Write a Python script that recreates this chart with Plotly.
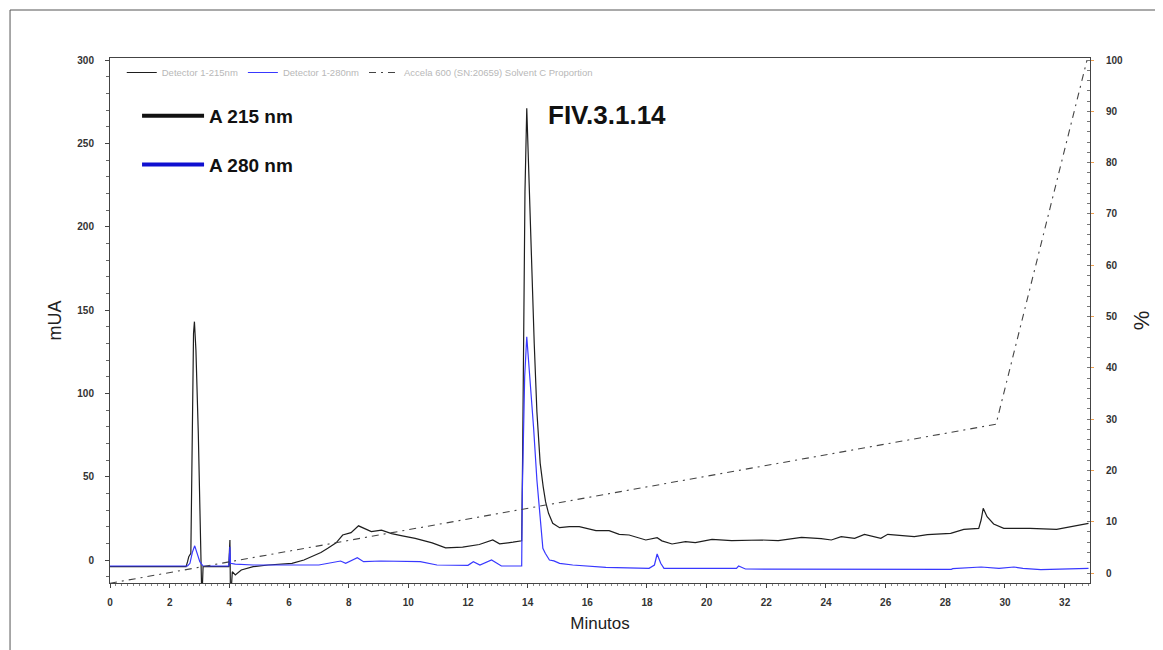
import plotly.graph_objects as go

# ---- data ----
t215 = [0, 2.55, 2.6, 2.64, 2.71, 2.76, 2.8, 2.83, 2.88, 2.96, 3.01, 3.07, 3.08, 3.12,
        3.98, 4.02, 4.04, 4.1, 4.2, 4.4, 4.8, 5.3, 5.8, 6.1, 6.5, 6.75, 7.07, 7.3, 7.58,
        7.8, 8.08, 8.33, 8.55, 8.76, 9.1, 9.44, 9.8, 10.23, 10.8, 11.25, 11.82, 12.38,
        12.83, 13.06, 13.51, 13.8, 13.83, 13.86, 13.91, 13.97, 14.02, 14.14, 14.22, 14.31,
        14.42, 14.52, 14.6, 14.7, 14.84, 15.07, 15.4, 15.73, 16.29, 16.73, 17.07, 17.4, 17.96,
        18.34, 18.5, 18.84, 19.29, 19.62, 20.18, 20.84, 21.84, 22.4, 23.18, 23.84, 24.18,
        24.51, 24.96, 25.29, 25.84, 26.07, 26.4, 26.96, 27.4, 28.18, 28.62, 29.12, 29.2,
        29.27, 29.4, 29.62, 29.96, 30.84, 31.73, 32.2, 32.46, 32.8]
a215 = [-4, -4, -1, 2, 4, 76, 136, 143, 126, 76, 36, 0, -25, -4,
        -4, 12, -25, -7, -9, -6, -4, -3, -2.5, -2, 0, 2, 4.5, 7, 10.3,
        15, 16.4, 20.5, 18.5, 17, 17.9, 15.8, 14.5, 13, 10.3, 7.3, 7.7, 9.3,
        12, 9.7, 10.7, 11.5, 60, 140, 221, 271, 242, 181, 130, 89,
        58, 44, 35, 28, 22, 19.4, 20, 20, 17.6, 17.6, 15.4, 15, 12,
        13.4, 11.5, 9.6, 11, 10.4, 12.4, 11.6, 12, 11.6, 13.6, 12.8, 12,
        14, 13, 15.4, 13, 15.4, 15, 14, 15.2, 16, 18.4, 19, 24,
        31, 26, 21.6, 19, 19, 18.4, 20, 21, 22]

t280 = [0, 2.6, 2.68, 2.76, 2.84, 2.93, 3.01, 3.12, 3.98, 4.02, 4.04, 4.2, 4.8, 7.0,
        7.73, 7.9, 8.29, 8.5, 9.07, 10.4, 10.96, 12.0, 12.18, 12.4, 12.79, 13.12, 13.8,
        13.82, 13.9, 13.97, 14.08, 14.2, 14.31, 14.42, 14.51, 14.59, 14.73, 14.88, 15.07,
        15.51, 16.62, 18.07, 18.25, 18.34, 18.46, 18.57, 21.0, 21.07, 21.3, 28.2, 28.25,
        29.2, 29.4, 29.8, 30.3, 30.6, 31.2, 32.5, 32.8]
a280 = [-3.6, -3.6, -2, 4.6, 8.5, 4, -1, -3.6, -3.6, 8, -2, -2.5, -3, -3,
        -0.6, -2, 1.4, -1, -0.6, -1, -3, -3.2, -1, -3, 0, -3.6, -3.6,
        40, 110, 134, 109, 79, 48, 24, 7, 4, 0, -0.5, -2,
        -3, -4.4, -5, -3, 3.6, -2, -5, -5, -3.6, -5.4, -5.6, -5.2,
        -4.2, -4.6, -5, -4.2, -5, -5.8, -5, -5]

grad_t = [0, 29.7, 32.75]
grad_pct = [-2, 29, 100]

names_small = ["Detector 1-215nm", "Detector 1-280nm",
               "Accela 600 (SN:20659) Solvent C Proportion"]
names_big = ["A 215 nm", "A 280 nm"]

BLACK = "#1e1e1e"
BLUE = "#3838ff"
FONT = "Liberation Sans"

fig = go.Figure()
fig.add_trace(go.Scatter(x=t215, y=a215, mode="lines", name=names_small[0],
                         line=dict(color=BLACK, width=1.2), legend="legend"))
fig.add_trace(go.Scatter(x=t280, y=a280, mode="lines", name=names_small[1],
                         line=dict(color=BLUE, width=1.2), legend="legend"))
fig.add_trace(go.Scatter(x=grad_t, y=grad_pct, mode="lines", name=names_small[2], yaxis="y2",
                         line=dict(color="#444444", width=1.1, dash="7px,5px,2px,5px"),
                         legend="legend"))
# big legend entries
fig.add_trace(go.Scatter(x=[None], y=[None], mode="lines", name=names_big[0],
                         line=dict(color="#111111", width=4), legend="legend2",
                         legendgroup="g1", hoverinfo="skip"))
fig.add_trace(go.Scatter(x=[None], y=[None], mode="lines", name=names_big[1],
                         line=dict(color="#1010d0", width=4), legend="legend2",
                         legendgroup="g2", hoverinfo="skip"))

axis_line = "#444444"
tickfont = dict(family=FONT, size=10, color="#333333", weight="bold")

fig.update_layout(
    width=1155, height=642,
    margin=dict(l=102, r=73, t=50, b=67),
    paper_bgcolor="white", plot_bgcolor="white",
    showlegend=True,
    xaxis=dict(range=[0, 32.85], tickmode="linear", tick0=0, dtick=2,
               showgrid=False, zeroline=False, showline=True, linecolor=axis_line,
               linewidth=1, mirror=True, ticks="outside", ticklen=4, tickcolor=axis_line,
               minor=dict(dtick=0.2, ticks="outside", ticklen=2, tickcolor="#888888"),
               tickfont=tickfont, ticklabelstandoff=6,
               title=dict(text="Minutos", font=dict(family=FONT, size=17, color="#222222"),
                          standoff=10)),
    yaxis=dict(range=[-13.8, 301.2], tickmode="linear", tick0=0, dtick=50,
               showgrid=False, zeroline=False, showline=True, linecolor=axis_line,
               linewidth=1, ticks="outside", ticklen=4, tickcolor=axis_line,
               minor=dict(dtick=10, ticks="outside", ticklen=3, tickcolor="#666666"),
               tickfont=tickfont, ticklabelstandoff=9,
               title=dict(text="mUA", font=dict(family=FONT, size=18, color="#222222"),
                          standoff=11)),
    yaxis2=dict(range=[-1.95, 100.4], overlaying="y", side="right", tickmode="linear",
                tick0=0, dtick=10, showgrid=False, zeroline=False, showline=True,
                linecolor=axis_line, linewidth=1, ticks="outside", ticklen=3,
                tickcolor="#f0a050",
                minor=dict(dtick=2, ticks="inside", ticklen=3, tickcolor="#777777"),
                tickfont=tickfont, ticklabelstandoff=10,
                title=dict(text="%", font=dict(family=FONT, size=22, color="#222222"),
                           standoff=11)),
    legend=dict(orientation="h", x=0.012, y=1.0, xanchor="left", yanchor="top",
                font=dict(family=FONT, size=9.5, color="#b8b8b8"),
                bgcolor="rgba(0,0,0,0)", itemwidth=30),
    legend2=dict(orientation="v", x=0.0276, y=0.926, xanchor="left", yanchor="top",
                 font=dict(family=FONT, size=19, color="#111111", weight="bold"),
                 bgcolor="rgba(0,0,0,0)", itemwidth=62, traceorder="grouped",
                 tracegroupgap=21),
    annotations=[dict(text="FIV.3.1.14", xref="paper", yref="paper", x=0.445, y=0.891,
                      xanchor="left", yanchor="middle", showarrow=False,
                      font=dict(family=FONT, size=26, color="#111111", weight="bold"))],
    shapes=[dict(type="rect", xref="paper", yref="paper", x0=-0.102, x1=1.3,
                 y0=-0.4, y1=1.0914, line=dict(color="#555555", width=1),
                 fillcolor="rgba(0,0,0,0)", layer="below")],
)

fig.write_html("out.html")
